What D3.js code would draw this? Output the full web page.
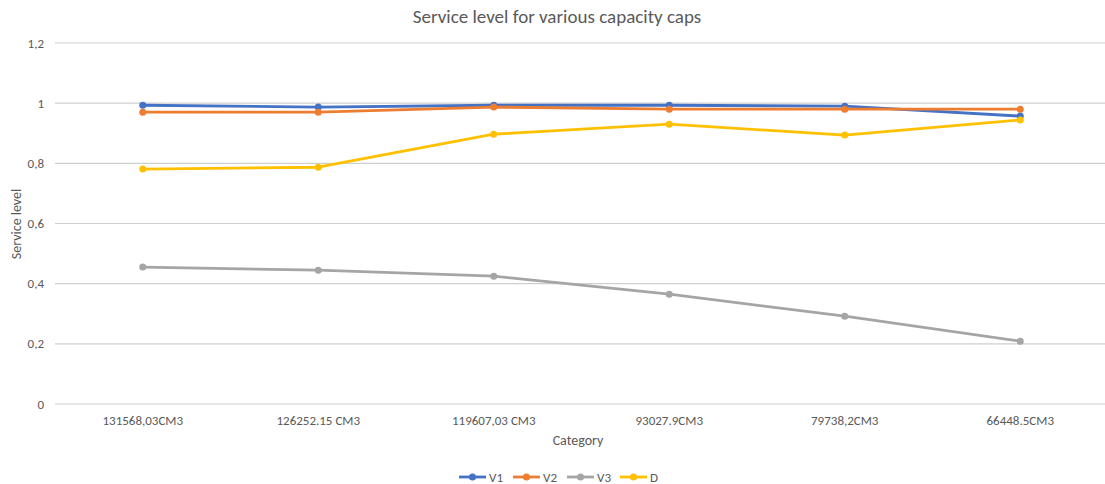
<!DOCTYPE html>
<html>
<head>
<meta charset="utf-8">
<script src="https://cdn.jsdelivr.net/npm/d3@7"></script>
<style>
  body { margin: 0; background: #fff; }
  text { font-family: Carlito, Lato, "Open Sans", sans-serif; fill: #595959; }
</style>
</head>
<body>
<div id="chart"></div>
<script>
const categories = ['131568,03CM3', '126252.15 CM3', '119607,03 CM3', '93027.9CM3', '79738,2CM3', '66448.5CM3'];
const v1 = [0.993, 0.987, 0.993, 0.993, 0.990, 0.957];
const v2 = [0.970, 0.970, 0.987, 0.980, 0.980, 0.980];
const v3 = [0.455, 0.445, 0.425, 0.365, 0.292, 0.209];
const d_values = [0.781, 0.787, 0.897, 0.930, 0.894, 0.944];
const y_ticks = [0, 0.2, 0.4, 0.6, 0.8, 1, 1.2];

const series = [
    { name: 'V1', values: v1, color: '#4472C4' },
    { name: 'V2', values: v2, color: '#ED7D31' },
    { name: 'V3', values: v3, color: '#A5A5A5' },
    { name: 'D', values: d_values, color: '#FFC000' },
];

const chart_width = 1105;
const chart_height = 484;

const svg = d3.select('#chart')
    .append('svg')
    .attr('width', chart_width)
    .attr('height', chart_height);

// Scales
const x_scale = d3.scaleBand()
    .domain(categories)
    .range([55, 1108]);

const y_scale = d3.scaleLinear()
    .domain([0, 1.2])
    .range([404, 43]);

const cx = c => x_scale(c) + x_scale.bandwidth() / 2;

// Gridlines
svg.append('g')
    .selectAll('line')
    .data(y_ticks)
    .enter()
    .append('line')
    .attr('x1', 55)
    .attr('x2', 1105)
    .attr('y1', d => y_scale(d))
    .attr('y2', d => y_scale(d))
    .attr('stroke', '#cfcfcf')
    .attr('stroke-width', 1.2);

// Y tick labels
const fmt = d => d3.format('.1~f')(d).replace('.', ',');
svg.append('g')
    .selectAll('text')
    .data(y_ticks)
    .enter()
    .append('text')
    .text(fmt)
    .attr('x', 44)
    .attr('y', d => y_scale(d) + 4.5)
    .attr('text-anchor', 'end')
    .attr('font-size', 13);

// X tick labels
svg.append('g')
    .selectAll('text')
    .data(categories)
    .enter()
    .append('text')
    .text(d => d)
    .attr('x', cx)
    .attr('y', 425)
    .attr('text-anchor', 'middle')
    .attr('font-size', 13);

// Title and axis titles
svg.append('text')
    .text('Service level for various capacity caps')
    .attr('x', 557)
    .attr('y', 23)
    .attr('text-anchor', 'middle')
    .attr('font-size', 19);

svg.append('text')
    .text('Category')
    .attr('x', 578)
    .attr('y', 445)
    .attr('text-anchor', 'middle')
    .attr('font-size', 14);

svg.append('text')
    .text('Service level')
    .attr('transform', 'translate(21, 224) rotate(-90)')
    .attr('text-anchor', 'middle')
    .attr('font-size', 14);

// Lines
const line = d3.line()
    .x((d, i) => cx(categories[i]))
    .y(d => y_scale(d));

const groups = svg.append('g')
    .selectAll('g')
    .data(series)
    .enter()
    .append('g');

groups.append('path')
    .attr('d', d => line(d.values))
    .attr('fill', 'none')
    .attr('stroke', d => d.color)
    .attr('stroke-width', 2.8)
    .attr('stroke-linejoin', 'round');

groups.selectAll('circle')
    .data(d => d.values.map((v, i) => ({ v, i, color: d.color })))
    .enter()
    .append('circle')
    .attr('cx', d => cx(categories[d.i]))
    .attr('cy', d => y_scale(d.v))
    .attr('r', 3.5)
    .attr('fill', d => d.color);

// Legend
const legend_x = [459, 513, 567, 620];
const legend = svg.append('g')
    .selectAll('g')
    .data(series)
    .enter()
    .append('g')
    .attr('transform', (d, i) => `translate(${legend_x[i]}, 477)`);

legend.append('line')
    .attr('x1', 0)
    .attr('x2', 27)
    .attr('stroke', d => d.color)
    .attr('stroke-width', 2.8);

legend.append('circle')
    .attr('cx', 13.5)
    .attr('r', 3.5)
    .attr('fill', d => d.color);

legend.append('text')
    .text(d => d.name)
    .attr('x', 30)
    .attr('y', 4.5)
    .attr('font-size', 13);
</script>
</body>
</html>
